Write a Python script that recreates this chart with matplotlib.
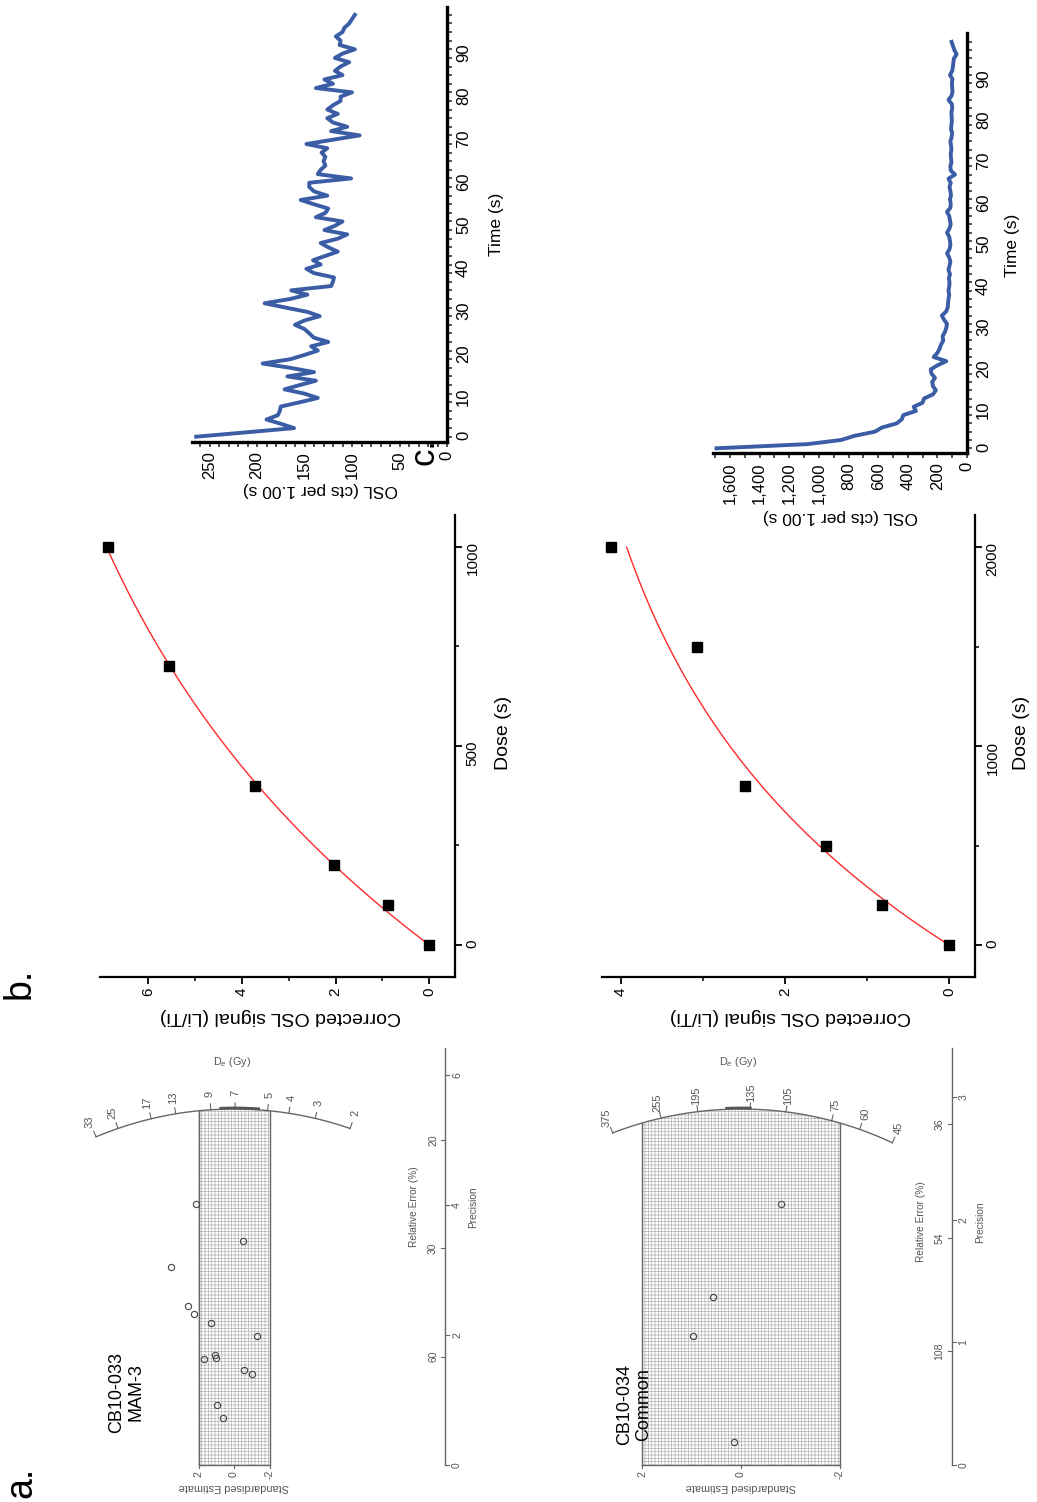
import numpy as np
import matplotlib
matplotlib.use("Agg")
import matplotlib.pyplot as plt
import matplotlib.ticker as mticker

plt.rcParams['font.family'] = ['Liberation Sans', 'DejaVu Sans']
plt.rcParams['mathtext.fontset'] = 'custom'
plt.rcParams['mathtext.rm'] = 'Liberation Sans'
plt.rcParams['mathtext.it'] = 'Liberation Sans:italic'
plt.rcParams['hatch.color'] = '#b4b4b4'
plt.rcParams['hatch.linewidth'] = 0.5

W, H = 1037, 1502

# ---------------- data ----------------
# a. radial plots (standardised estimate vs precision)
label_033 = "CB10-033\nMAM-3"
se_033 = [2.16, -0.52, 3.55, 2.61, 2.27, 1.28, -1.28, 1.09, 1.03, 1.69, -0.55, -1.01, 0.96, 0.64]
prec_033 = [4.01, 3.44, 3.04, 2.45, 2.33, 2.19, 1.99, 1.69, 1.65, 1.63, 1.46, 1.40, 0.93, 0.72]
de_ticks_033 = [2, 3, 4, 5, 7, 9, 13, 17, 25, 33]
de_central_033 = 7.08
de_central_bar_033 = [5.5, 8.1]
prec_ticks_033 = [0, 2, 4, 6]
relerr_ticks_033 = [20, 30, 60]

label_034 = "CB10-034\nCommon"
se_034 = [0.96, 0.56, -0.80, 0.14]
prec_034 = [1.055, 1.368, 2.129, 0.19]
de_ticks_034 = [45, 60, 75, 105, 135, 195, 255, 375]
de_central_034 = 144
de_central_bar_034 = [135, 159]
prec_ticks_034 = [0, 1, 2, 3]
relerr_ticks_034 = [36, 54, 108]

# b. dose response curves
dose_033 = [0, 100, 200, 400, 700, 1000]
lxtx_033 = [0, 0.88, 2.04, 3.72, 5.56, 6.87]
dose_034 = [0, 200, 500, 800, 1500, 2000]
lxtx_034 = [0, 0.82, 1.50, 2.49, 3.07, 4.12]

# c. OSL decay curves (1 s channels)
osl_033 = [264, 212, 161, 175, 190, 178, 176, 175, 155, 136, 150, 171, 155, 138, 168, 140,
           165, 194, 165, 150, 136, 143, 125, 140, 145, 150, 160, 150, 134, 147, 170, 192,
           165, 147, 164, 122, 120, 119, 140, 148, 133, 141, 128, 115, 125, 133, 115, 105,
           129, 118, 110, 138, 128, 125, 140, 154, 126, 140, 145, 145, 101, 136, 133, 128,
           130, 128, 132, 126, 148, 120, 92, 122, 105, 120, 126, 115, 126, 120, 112, 112,
           100, 138, 120, 129, 110, 118, 112, 103, 118, 110, 97, 113, 112, 117, 110, 108,
           103, 100, 97]
osl_034 = [1691, 1080, 850, 760, 622, 575, 475, 440, 430, 345, 360, 300, 290, 230, 210, 230,
           235, 216, 240, 245, 200, 140, 225, 200, 185, 175, 160, 165, 150, 140, 135, 155,
           170, 140, 130, 128, 125, 120, 125, 120, 118, 122, 115, 125, 118, 112, 120, 135,
           118, 112, 115, 120, 135, 118, 110, 115, 120, 135, 112, 110, 115, 108, 112, 118,
           110, 125, 81, 110, 112, 105, 108, 110, 105, 108, 112, 104, 100, 108, 105, 102,
           104, 105, 100, 102, 125, 104, 98, 100, 102, 98, 115, 100, 95, 92, 88, 70,
           85, 95, 104]

fig = plt.figure(figsize=(W / 100, H / 100), dpi=100)


def px_axes(x0, y0, x1, y1):
    return fig.add_axes([x0 / W, 1 - y1 / H, (x1 - x0) / W, (y1 - y0) / H])


def lims(pa, va, pb, vb, p_lo, p_hi):
    # linear pixel -> value calibration
    f = lambda p: va + (p - pa) * (vb - va) / (pb - pa)
    return f(p_lo), f(p_hi)


GREY = '#555555'


def radial(box, se0, k, p0, ps, se, prec, de_ticks, de_c, bar, p_ticks, re_ticks,
           axis_x, top_p, label, label_xy, re_title_y):
    x0, y0, x1, y1 = box
    ax = px_axes(x0, y0, x1, y1)
    ax.set_xlim((se0 - x0) / k, (se0 - x1) / k)
    ax.set_ylim((p0 - y1) / ps, (p0 - y0) / ps)
    ax.axis('off')
    R = 356.0
    z0 = np.log(de_c)

    def ang(d):
        return np.arctan(k * (np.log(d) - z0) / ps)

    def pt(phi, r=R):
        return r * np.sin(phi) / k, r * np.cos(phi) / ps

    # +-2 band with grid fill
    pb = np.arcsin(2 * k / R)
    phis = np.linspace(-pb, pb, 60)
    bx, by = pt(phis)
    polx = np.concatenate([[-2, -2], bx, [2, 2]])
    poly = np.concatenate([[0, by[0]], by, [by[-1], 0]])
    ax.fill(polx, poly, facecolor='white', edgecolor='#b4b4b4', hatch='+++++', lw=0)
    ax.plot([2, 2], [0, by[-1]], color='#666666', lw=1)
    ax.plot([-2, -2], [0, by[0]], color='#666666', lw=1)
    ax.plot([-2, 2], [0, 0], color='#666666', lw=1)

    # arc with De ticks
    phis = np.linspace(ang(min(de_ticks)), ang(max(de_ticks)), 200)
    ax.plot(*pt(phis), color='#666666', lw=1)
    for d in de_ticks:
        a = ang(d)
        tx, ty = pt(np.array([a, a]), np.array([R, R + 6]))
        ax.plot(tx, ty, color='#666666', lw=0.8)
        lx, ly = pt(a, R + 16)
        ax.text(lx, ly, str(d), rotation=90, ha='center', va='center',
                fontsize=8, color=GREY)
    cb = np.linspace(ang(bar[0]), ang(bar[1]), 20)
    ax.plot(*pt(cb, R + 1), color='#555555', lw=2)
    ax.text((se0 - label_xy[2]) / k, (p0 - 1062) / ps, 'D$_e$ (Gy)', fontsize=7.8,
            color=GREY, ha='center', va='center')

    # points
    ax.plot(se, prec, 'o', mfc='none', mec='#444444', ms=4.5, mew=0.8)

    # standardised estimate axis
    for v in [2, 0, -2]:
        ax.plot([v, v], [0, -3 / ps], color='#666666', lw=0.8)
        ax.text(v, -9 / ps, str(v), rotation=90, ha='center', va='center',
                fontsize=7.5, color=GREY)
    ax.text(0, -22 / ps, 'Standardised Estimate', rotation=180, ha='center',
            va='center', fontsize=7.8, color=GREY)

    # precision / relative error axis
    sa = (se0 - axis_x) / k
    ax.plot([sa, sa], [0, top_p], color='#666666', lw=1)
    for v in p_ticks:
        ax.plot([sa, sa - 4 / k], [v, v], color='#666666', lw=0.8)
        ax.text(sa - 12 / k, v, str(v), rotation=90, ha='center', va='center',
                fontsize=7.5, color=GREY)
    for v in re_ticks:
        p = 100.0 / v
        ax.plot([sa, sa + 4 / k], [p, p], color='#666666', lw=0.8)
        ax.text(sa + 12 / k, p, str(v), rotation=90, ha='center', va='center',
                fontsize=7.5, color=GREY)
    pt_title = (p0 - re_title_y) / ps
    ax.text(sa + 31 / k, pt_title, 'Relative Error (%)', rotation=90, ha='center',
            va='center', fontsize=7.3, color=GREY)
    ax.text(sa - 28 / k, pt_title, 'Precision', rotation=90, ha='center',
            va='center', fontsize=7.3, color=GREY)

    ax.text((se0 - label_xy[0]) / k, (p0 - label_xy[1]) / ps, label, rotation=90,
            ha='center', va='bottom', fontsize=13, color='black', zorder=5)
    return ax


radial((40, 1040, 520, 1502), 234, 17.75, 1465, 65.0, se_033, prec_033, de_ticks_033,
       de_central_033, de_central_bar_033, prec_ticks_033, relerr_ticks_033,
       445, 6.42, label_033, (126, 1433, 232), 1207)
radial((540, 1040, 1037, 1502), 741, 49.5, 1465, 122.6, se_034, prec_034, de_ticks_034,
       de_central_034, de_central_bar_034, prec_ticks_034, relerr_ticks_034,
       951.7, 3.40, label_034, (634, 1445, 738), 1222)


# ---------------- b. dose response ----------------
def fit_sat_exp(x, y):
    x = np.asarray(x, float)
    y = np.asarray(y, float)
    best = None
    for d0 in np.linspace(200, 20000, 5000):
        g = 1 - np.exp(-x / d0)
        a = np.dot(g, y) / np.dot(g, g)
        err = np.sum((y - a * g) ** 2)
        if best is None or err < best[0]:
            best = (err, a, d0)
    return best[1], best[2]


def dose_panel(box, xcal, ycal, dose, sig, xt, xmin_t, yt, ymin_t):
    x0, y0, x1, y1 = box
    ax = px_axes(x0, y0, x1, y1)
    ax.set_xlim(*lims(*xcal, x0, x1))
    ax.set_ylim(*lims(*ycal, y1, y0))
    a, d0 = fit_sat_exp(dose, sig)
    dd = np.linspace(0, max(dose), 200)
    ax.plot(a * (1 - np.exp(-dd / d0)), dd, color='#ff2a2a', lw=1.0, zorder=2)
    ax.plot(sig, dose, 's', color='black', ms=6.5, zorder=3)
    for s in ['top', 'left']:
        ax.spines[s].set_visible(False)
    for s in ['bottom', 'right']:
        ax.spines[s].set_linewidth(1.6)
    ax.yaxis.tick_right()
    ax.set_xticks(xt)
    ax.set_xticks(xmin_t, minor=True)
    ax.set_yticks(yt)
    ax.set_yticks(ymin_t, minor=True)
    ax.tick_params(which='major', direction='out', length=5, width=1.3, labelsize=11,
                   labelrotation=90, pad=2.5)
    ax.tick_params(which='minor', direction='out', length=3, width=1.1)
    ax.patch.set_alpha(0)
    return ax


dose_panel((100, 515, 455, 977), (429.3, 0, 148.3, 6), (945, 0, 546.7, 1000),
           dose_033, lxtx_033, [0, 2, 4, 6], [1, 3, 5], [0, 500, 1000], [250, 750])
dose_panel((602, 515, 975, 977), (949, 0, 620.7, 4), (945, 0, 547.3, 2000),
           dose_034, lxtx_034, [0, 2, 4], [1, 3], [0, 1000, 2000], [500, 1500])
for xc in [280, 790]:
    fig.text(xc / W, 1 - 1016 / H, 'Corrected OSL signal (Li/Ti)', rotation=180,
             ha='center', va='center', fontsize=14)
fig.text(503 / W, 1 - 733 / H, 'Dose (s)', rotation=90, ha='center', va='center', fontsize=14)
fig.text(1022 / W, 1 - 733 / H, 'Dose (s)', rotation=90, ha='center', va='center', fontsize=14)


# ---------------- c. OSL decay ----------------
def decay_panel(box, xcal, ycal, osl, xt, xmin_t, fmt):
    x0, y0, x1, y1 = box
    ax = px_axes(x0, y0, x1, y1)
    ax.set_xlim(*lims(*xcal, x0, x1))
    ax.set_ylim(*lims(*ycal, y1, y0))
    t = np.arange(len(osl))
    ax.plot(osl, t, color='#3a5da5', lw=2.8, solid_joinstyle='round')
    for s in ['top', 'left']:
        ax.spines[s].set_visible(False)
    for s in ['bottom', 'right']:
        ax.spines[s].set_linewidth(2.4)
    ax.yaxis.tick_right()
    ax.set_xticks(xt)
    ax.set_xticks(xmin_t, minor=True)
    ax.set_yticks(np.arange(0, 100, 10))
    ax.set_yticks(np.arange(0, 100, 2), minor=True)
    ax.xaxis.set_major_formatter(mticker.StrMethodFormatter(fmt))
    ax.tick_params(which='both', direction='out', length=3.5, width=1.2, color='#333333')
    ax.tick_params(which='major', labelsize=12, labelrotation=90, pad=3)
    ax.patch.set_alpha(0)
    return ax


decay_panel((192, 7, 447, 442), (447, 0, 209.5, 250), (436.7, 0, 49.3, 90),
            osl_033, np.arange(0, 300, 50), np.arange(0, 270, 10), '{x:.0f}')
decay_panel((713, 33, 967, 453), (967, 0, 730, 1600), (448.3, 0, 75, 90),
            osl_034, np.arange(0, 1800, 200), np.arange(0, 1720, 100), '{x:,.0f}')
fig.text(496 / W, 1 - 224 / H, 'Time (s)', rotation=90, ha='center', va='center', fontsize=12.5)
fig.text(1013 / W, 1 - 245 / H, 'Time (s)', rotation=90, ha='center', va='center', fontsize=12.5)
fig.text(320 / W, 1 - 490 / H, 'OSL (cts per 1.00 s)', rotation=180, ha='center',
         va='center', fontsize=12.5)
fig.text(840 / W, 1 - 516 / H, 'OSL (cts per 1.00 s)', rotation=180, ha='center',
         va='center', fontsize=12.5)

# panel letters
for ch, (xc, yc, fs) in {'a.': (21, 1482, 27), 'b.': (20, 983, 27), 'c.': (424, 452, 25)}.items():
    fig.text(xc / W, 1 - yc / H, ch, rotation=90, ha='center', va='center', fontsize=fs)

fig.savefig('out.png', dpi=100)
